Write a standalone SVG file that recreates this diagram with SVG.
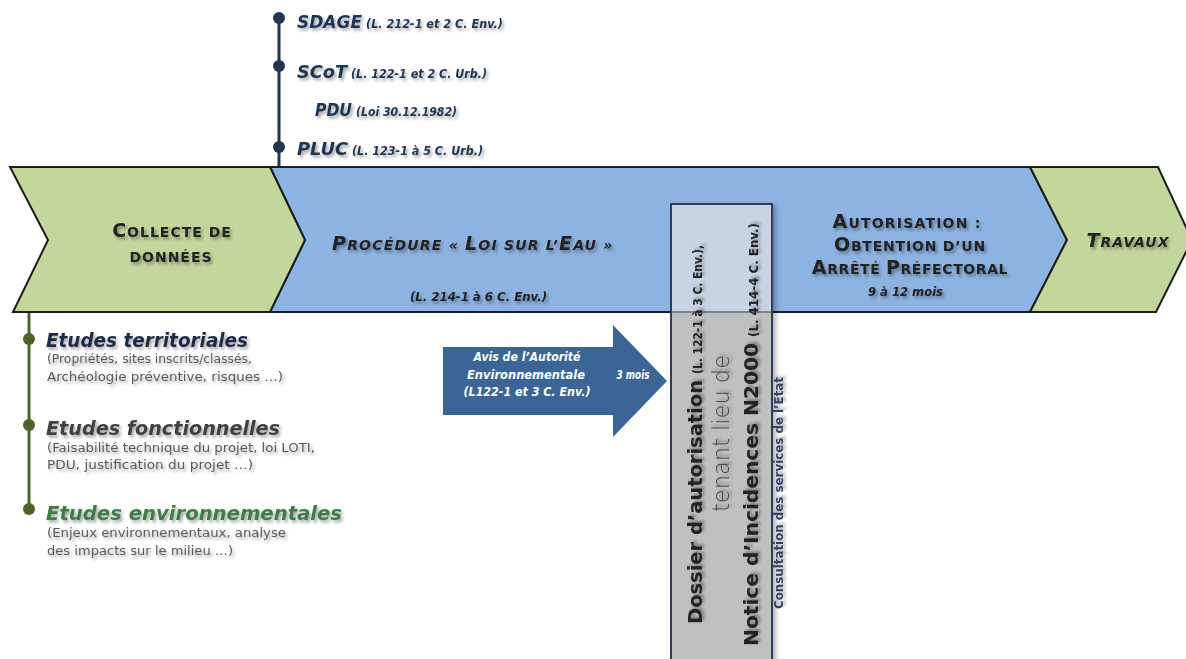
<svg xmlns="http://www.w3.org/2000/svg" width="1186" height="659" viewBox="0 0 1186 659">
<defs>
<filter id="ts" x="-10%" y="-40%" width="130%" height="190%"><feDropShadow dx="2" dy="2.5" stdDeviation="1.6" flood-color="#000" flood-opacity="0.35"/></filter>
<filter id="bs" x="-10%" y="-5%" width="130%" height="115%"><feDropShadow dx="3" dy="2" stdDeviation="2.5" flood-color="#000" flood-opacity="0.3"/></filter>
</defs>
<style>
text{font-family:"DejaVu Sans","Liberation Sans",sans-serif}
.band{stroke:#1c1c1c;stroke-width:2;stroke-linejoin:miter}
.green{fill:#c3d69b}
.blue{fill:#8db3e2}
.bi{font-weight:bold;font-style:italic}
.b{font-weight:bold}
.navy{fill:#1f3553}
.cap{fill:#222}
.sub{fill:#595959;font-size:12px}
.wt{fill:#fff;font-weight:bold;font-style:italic;font-size:11.5px}
.tl{stroke:#1f3553;stroke-width:3;fill:none}
.tlg{stroke:#4f6228;stroke-width:3;fill:none}
</style>

<g id="connectors">
<line class="tl" x1="279" y1="18" x2="279" y2="167"/>
<circle cx="279" cy="18" r="6" fill="#1f3553"/>
<circle cx="279" cy="66" r="6" fill="#1f3553"/>
<circle cx="279" cy="147" r="6" fill="#1f3553"/>
<line class="tlg" x1="29" y1="312" x2="29" y2="509"/>
<circle cx="29" cy="339" r="6" fill="#4f6228"/>
<circle cx="29" cy="425" r="6" fill="#4f6228"/>
<circle cx="29" cy="509" r="6" fill="#4f6228"/>
</g>

<g id="node-procedure">
<path class="band blue" d="M270,167 L1030,167 L1067,240 L1030,312 L270,312 L305,240 Z"/>
<text class="bi cap" x="332" y="250" letter-spacing="1.2" filter="url(#ts)"><tspan font-size="19">P</tspan><tspan font-size="14">ROCÉDURE « </tspan><tspan font-size="19">L</tspan><tspan font-size="14">OI SUR L’</tspan><tspan font-size="19">E</tspan><tspan font-size="14">AU »</tspan></text>
<text class="bi cap" x="410" y="301" font-size="11.5" textLength="137" lengthAdjust="spacingAndGlyphs" filter="url(#ts)">(L. 214-1 à 6 C. Env.)</text>
</g>

<g id="node-collecte">
<path class="band green" d="M10,167 L270,167 L305,240 L270,312 L13,312 L48,240 Z"/>
<text class="b cap" x="172" y="237" text-anchor="middle" letter-spacing="1" filter="url(#ts)"><tspan font-size="19">C</tspan><tspan font-size="14">OLLECTE DE</tspan></text>
<text class="b cap" x="171" y="262" text-anchor="middle" letter-spacing="1" font-size="14" filter="url(#ts)">DONNÉES</text>
</g>

<g id="node-travaux">
<path class="band green" d="M1030,167 L1158,167 L1192,240 L1156,312 L1030,312 L1067,240 Z"/>
<text class="bi cap" x="1128" y="247" text-anchor="middle" letter-spacing="1" filter="url(#ts)"><tspan font-size="19">T</tspan><tspan font-size="14">RAVAUX</tspan></text>
</g>

<g id="node-autorisation">
<text class="b cap" x="907" y="228" text-anchor="middle" letter-spacing="1.2" filter="url(#ts)"><tspan font-size="19">A</tspan><tspan font-size="14">UTORISATION :</tspan></text>
<text class="b cap" x="910" y="251" text-anchor="middle" letter-spacing="0.8" filter="url(#ts)"><tspan font-size="19">O</tspan><tspan font-size="14">BTENTION D’UN</tspan></text>
<text class="b cap" x="910" y="274" text-anchor="middle" letter-spacing="0.6" filter="url(#ts)"><tspan font-size="19">A</tspan><tspan font-size="14">RRÊTÉ </tspan><tspan font-size="19">P</tspan><tspan font-size="14">RÉFECTORAL</tspan></text>
<text class="bi cap" x="868" y="296" font-size="11.5" textLength="75" lengthAdjust="spacingAndGlyphs" filter="url(#ts)">9 à 12 mois</text>
</g>

<g id="node-dossier">
<rect x="671" y="204" width="101" height="470" fill="#c0c0c0" stroke="#2e3d5c" stroke-width="2" filter="url(#bs)"/>
<rect x="672" y="205" width="99" height="107" fill="#c8d4e4"/>
<line x1="672" y1="312" x2="771" y2="312" stroke="#7c8290" stroke-width="2"/>
<text class="b cap" transform="translate(702,624) rotate(-90)" font-size="20" textLength="244" lengthAdjust="spacingAndGlyphs" filter="url(#ts)">Dossier d’autorisation</text>
<text class="b cap" transform="translate(702,374) rotate(-90)" font-size="11.5" textLength="129" lengthAdjust="spacingAndGlyphs" filter="url(#ts)">(L. 122-1 à 3 C. Env.),</text>
<text transform="translate(729,512) rotate(-90)" font-size="23" font-weight="200" fill="#4a4a4a" textLength="157" lengthAdjust="spacingAndGlyphs" filter="url(#ts)">tenant lieu de</text>
<text class="b cap" transform="translate(758,646) rotate(-90)" font-size="20" textLength="303" lengthAdjust="spacingAndGlyphs" filter="url(#ts)">Notice d’Incidences N2000</text>
<text class="b cap" transform="translate(758,337) rotate(-90)" font-size="11.5" textLength="114" lengthAdjust="spacingAndGlyphs" filter="url(#ts)">(L. 414-4 C. Env.)</text>
<text transform="translate(783,609) rotate(-90)" font-size="12.5" font-weight="bold" fill="#33425f" textLength="232" lengthAdjust="spacingAndGlyphs" filter="url(#ts)">Consultation des services de l’Etat</text>
</g>

<g id="node-avis">
<path d="M443,347 L613,347 L613,325 L667,381 L613,437 L613,415 L443,415 Z" fill="#3a6596"/>
<text class="wt" x="527" y="361" text-anchor="middle" textLength="107" lengthAdjust="spacingAndGlyphs">Avis de l’Autorité</text>
<text class="wt" x="526" y="379" text-anchor="middle" textLength="118" lengthAdjust="spacingAndGlyphs">Environnementale</text>
<text class="wt" x="527" y="396" text-anchor="middle" textLength="127" lengthAdjust="spacingAndGlyphs">(L122-1 et 3 C. Env.)</text>
<text class="wt" x="633" y="379" text-anchor="middle" textLength="33" lengthAdjust="spacingAndGlyphs">3 mois</text>
</g>

<g id="node-plans">
<text class="bi navy" x="297" y="28" font-size="18" textLength="65" lengthAdjust="spacingAndGlyphs" filter="url(#ts)">SDAGE</text>
<text class="bi navy" x="366" y="28" font-size="12" textLength="137" lengthAdjust="spacingAndGlyphs" filter="url(#ts)">(L. 212-1 et 2 C. Env.)</text>
<text class="bi navy" x="297" y="78" font-size="18" textLength="50" lengthAdjust="spacingAndGlyphs" filter="url(#ts)">SCoT</text>
<text class="bi navy" x="351" y="78" font-size="12" textLength="136" lengthAdjust="spacingAndGlyphs" filter="url(#ts)">(L. 122-1 et 2 C. Urb.)</text>
<text class="bi navy" x="315" y="116" font-size="18" textLength="37" lengthAdjust="spacingAndGlyphs" filter="url(#ts)">PDU</text>
<text class="bi navy" x="356" y="116" font-size="12" textLength="101" lengthAdjust="spacingAndGlyphs" filter="url(#ts)">(Loi 30.12.1982)</text>
<text class="bi navy" x="297" y="155" font-size="18" textLength="51" lengthAdjust="spacingAndGlyphs" filter="url(#ts)">PLUC</text>
<text class="bi navy" x="352" y="155" font-size="12" textLength="131" lengthAdjust="spacingAndGlyphs" filter="url(#ts)">(L. 123-1 à 5 C. Urb.)</text>
</g>

<g id="node-etudes">
<text class="bi" x="46" y="347" font-size="19.5" fill="#1f2b45" textLength="202" lengthAdjust="spacingAndGlyphs" filter="url(#ts)">Etudes territoriales</text>
<text class="sub" x="47" y="363" textLength="205" lengthAdjust="spacingAndGlyphs" filter="url(#ts)">(Propriétés, sites inscrits/classés,</text>
<text class="sub" x="47" y="381" textLength="236" lengthAdjust="spacingAndGlyphs" filter="url(#ts)">Archéologie préventive, risques …)</text>
<text class="bi" x="46" y="435" font-size="19.5" fill="#3f3f3f" textLength="234" lengthAdjust="spacingAndGlyphs" filter="url(#ts)">Etudes fonctionnelles</text>
<text class="sub" x="47" y="452" textLength="268" lengthAdjust="spacingAndGlyphs" filter="url(#ts)">(Faisabilité technique du projet, loi LOTI,</text>
<text class="sub" x="47" y="469" textLength="206" lengthAdjust="spacingAndGlyphs" filter="url(#ts)">PDU, justification du projet  …)</text>
<text class="bi" x="46" y="520" font-size="19.5" fill="#3c7d45" textLength="296" lengthAdjust="spacingAndGlyphs" filter="url(#ts)">Etudes environnementales</text>
<text class="sub" x="47" y="537" textLength="239" lengthAdjust="spacingAndGlyphs" filter="url(#ts)">(Enjeux environnementaux, analyse</text>
<text class="sub" x="47" y="555" textLength="186" lengthAdjust="spacingAndGlyphs" filter="url(#ts)">des impacts sur le milieu …)</text>
</g>
</svg>
